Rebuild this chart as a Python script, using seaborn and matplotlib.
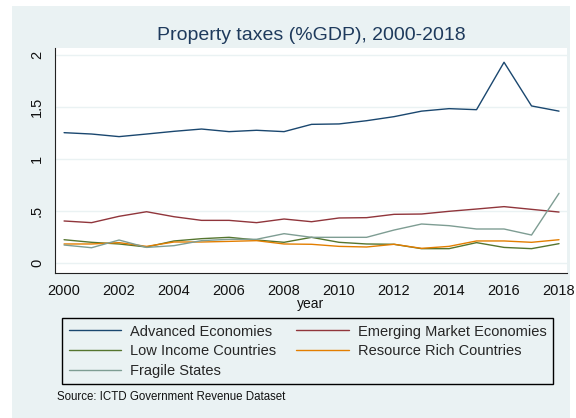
"""Property taxes (%GDP) by country group, 2000-2018, in a Stata-like style."""

import matplotlib

matplotlib.use("Agg")
import matplotlib.pyplot as plt
import pandas as pd
import seaborn as sns
from matplotlib.patches import Rectangle

YEARS = list(range(2000, 2019))

ADVANCED = [1.253, 1.240, 1.215, 1.240, 1.266, 1.288, 1.263, 1.276, 1.263, 1.333,
            1.337, 1.368, 1.407, 1.460, 1.484, 1.474, 1.930, 1.510, 1.460]
EMERGING = [0.404, 0.388, 0.449, 0.493, 0.445, 0.410, 0.410, 0.388, 0.423, 0.397,
            0.433, 0.436, 0.468, 0.471, 0.497, 0.519, 0.542, 0.516, 0.490]
LOW_INCOME = [0.224, 0.199, 0.183, 0.154, 0.212, 0.234, 0.247, 0.221, 0.199, 0.247,
              0.199, 0.183, 0.180, 0.138, 0.138, 0.196, 0.150, 0.138, 0.186]
RESOURCE_RICH = [0.183, 0.183, 0.196, 0.160, 0.202, 0.202, 0.208, 0.215, 0.183, 0.180,
                 0.160, 0.154, 0.180, 0.141, 0.160, 0.212, 0.212, 0.199, 0.224]
FRAGILE = [0.173, 0.147, 0.221, 0.150, 0.167, 0.215, 0.228, 0.228, 0.282, 0.247,
           0.247, 0.247, 0.317, 0.375, 0.359, 0.327, 0.327, 0.269, 0.670]

GROUPS = [
    "Advanced Economies",
    "Emerging Market Economies",
    "Low Income Countries",
    "Resource Rich Countries",
    "Fragile States",
]
SERIES = [ADVANCED, EMERGING, LOW_INCOME, RESOURCE_RICH, FRAGILE]
PALETTE = {
    "Advanced Economies": "#1A476F",
    "Emerging Market Economies": "#90353B",
    "Low Income Countries": "#55752F",
    "Resource Rich Countries": "#E37E00",
    "Fragile States": "#7E9D93",
}
# matplotlib fills legend columns first; this gives Stata's row-wise order
LEGEND_ORDER = [
    "Advanced Economies",
    "Low Income Countries",
    "Fragile States",
    "Emerging Market Economies",
    "Resource Rich Countries",
]
X_TICKS = list(range(2000, 2019, 2))
Y_TICKS = [0, 0.5, 1, 1.5, 2]
Y_TICK_LABELS = ["0", ".5", "1", "1.5", "2"]

BG = "#EAF2F3"
TITLE_COLOR = "#1E3A5C"


def build_frame() -> pd.DataFrame:
    rows = []
    for group, values in zip(GROUPS, SERIES):
        for year, value in zip(YEARS, values):
            rows.append({"year": year, "value": value, "group": group})
    return pd.DataFrame(rows)


def main() -> None:
    sns.set_theme(style="white")
    plt.rcParams["font.family"] = ["Liberation Sans", "DejaVu Sans"]

    df = build_frame()

    fig = plt.figure(figsize=(5.76, 4.18), dpi=100)
    fig.patch.set_facecolor("white")
    fig.patches.append(
        Rectangle((12 / 576, 0), 558 / 576, 412 / 418, transform=fig.transFigure,
                  facecolor=BG, edgecolor="none", zorder=-10)
    )

    ax = fig.add_axes([55 / 576, 1 - 273 / 418, 512 / 576, 225 / 418])
    ax.set_facecolor("white")

    sns.lineplot(data=df, x="year", y="value", hue="group", hue_order=GROUPS,
                 palette=PALETTE, linewidth=1.0, ax=ax, legend=False)

    ax.set_xlim(1999.67, 2018.29)
    ax.set_ylim(-0.096, 2.067)
    ax.set_xticks(X_TICKS)
    ax.set_yticks(Y_TICKS)
    ax.set_yticklabels(Y_TICK_LABELS, rotation=90, va="center")
    ax.tick_params(axis="both", direction="out", length=5, width=0.8,
                   color="#222222", labelsize=10.5, labelcolor="#111111", pad=3)
    ax.yaxis.grid(True, color=BG, linewidth=1.0)
    ax.set_axisbelow(True)

    for side in ("top", "right"):
        ax.spines[side].set_visible(False)
    for side in ("left", "bottom"):
        ax.spines[side].set_color("#222222")
        ax.spines[side].set_linewidth(0.8)

    ax.set_xlabel("year", fontsize=10, color="#111111", labelpad=-1)
    ax.set_ylabel("")
    fig.text(311 / 576, 1 - 36 / 418, "Property taxes (%GDP), 2000-2018",
             ha="center", va="center", fontsize=14, color=TITLE_COLOR)

    handles = [plt.Line2D([], [], color=PALETTE[g], linewidth=1.0) for g in LEGEND_ORDER]
    leg = fig.legend(handles, LEGEND_ORDER, ncol=2,
                     bbox_to_anchor=(62 / 576, 1 - 318 / 418),
                     loc="upper left", frameon=True, fancybox=False,
                     handlelength=3.6, handletextpad=0.6, borderpad=0.45,
                     labelspacing=0.38, columnspacing=1.4, fontsize=10.5,
                     borderaxespad=0)
    leg.get_frame().set_edgecolor("black")
    leg.get_frame().set_facecolor(BG)
    leg.get_frame().set_linewidth(1.0)
    leg.get_frame().set_alpha(1)

    fig.text(57 / 576, 1 - 397 / 418, "Source: ICTD Government Revenue Dataset",
             ha="left", va="center", fontsize=8.3, color="#111111")

    fig.savefig("out.png", dpi=100, facecolor=fig.get_facecolor())
    plt.close(fig)


if __name__ == "__main__":
    main()
